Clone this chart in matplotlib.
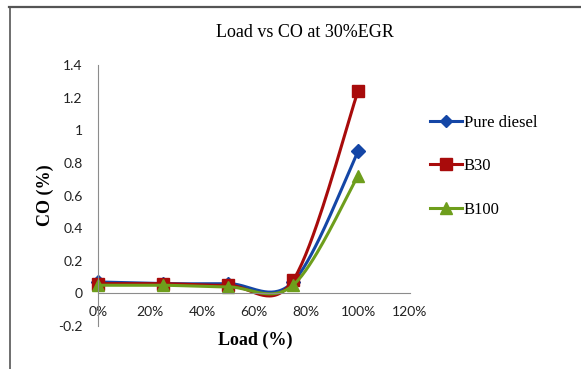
import numpy as np
import matplotlib.pyplot as plt
from matplotlib.lines import Line2D
from matplotlib.ticker import FuncFormatter

load = [0, 25, 50, 75, 100]
pure_diesel = [0.07, 0.06, 0.06, 0.07, 0.87]
b30 = [0.06, 0.06, 0.05, 0.08, 1.24]
b100 = [0.05, 0.05, 0.04, 0.05, 0.72]

series = [
    ('Pure diesel', pure_diesel, '#1446A6', 'D', 7),
    ('B30', b30, '#A80B0B', 's', 9),
    ('B100', b100, '#6E9E1C', '^', 9),
]


def smooth(x, y, n=40):
    # bezier smoothing through every point, like spreadsheet smoothed lines
    p = np.column_stack([x, y]).astype(float)
    out = [p[0]]
    for i in range(len(p) - 1):
        p0 = p[i - 1] if i > 0 else p[i]
        p3 = p[i + 2] if i + 2 < len(p) else p[i + 1]
        c1 = p[i] + (p[i + 1] - p0) / 6
        c2 = p[i + 1] - (p3 - p[i]) / 6
        t = np.linspace(0, 1, n)[1:, None]
        seg = ((1 - t) ** 3 * p[i] + 3 * (1 - t) ** 2 * t * c1
               + 3 * (1 - t) * t ** 2 * c2 + t ** 3 * p[i + 1])
        out.extend(seg)
    out = np.array(out)
    return out[:, 0], out[:, 1]


fig = plt.figure(figsize=(5.81, 3.69), dpi=100)
ax = fig.add_axes([0.1687, 0.1165, 0.537, 0.7073])

handles = []
for name, vals, col, mk, ms in series:
    sx, sy = smooth(load, vals)
    ax.plot(sx, sy, color=col, lw=2.2, solid_capstyle='round', clip_on=False)
    ax.plot(load, vals, ls='none', marker=mk, ms=ms, color=col, clip_on=False)
    handles.append(Line2D([], [], color=col, lw=2.2, marker=mk, ms=ms - 1))

ax.set_xlim(0, 120)
ax.set_ylim(-0.2, 1.4)
ax.set_xticks(np.arange(0, 121, 20))
ax.set_yticks(np.arange(-0.2, 1.41, 0.2))
ax.xaxis.set_major_formatter(FuncFormatter(lambda v, _: f'{v:.0f}%'))
ax.yaxis.set_major_formatter(FuncFormatter(lambda v, _: f'{v:.1f}'.rstrip('0').rstrip('.') if abs(v) > 1e-9 else '0'))

for s in ['top', 'right']:
    ax.spines[s].set_visible(False)
ax.spines['bottom'].set_position(('data', 0))
ax.spines['bottom'].set_color('#8c8c8c')
ax.spines['left'].set_color('#8c8c8c')
ax.tick_params(axis='both', length=0, labelsize=10, colors='#222222')
ax.tick_params(axis='x', pad=9)
ax.tick_params(axis='y', pad=11)
for lab in ax.get_xticklabels() + ax.get_yticklabels():
    lab.set_family('Lato')

ax.set_ylabel('CO (%)', family='Liberation Serif', fontweight='bold', fontsize=13, labelpad=3)
fig.text(0.44, 0.078, 'Load (%)', family='Liberation Serif', fontweight='bold',
         fontsize=13, ha='center', va='center')
fig.text(0.525, 0.913, 'Load vs CO at 30%EGR', family='Liberation Serif',
         fontsize=13, ha='center', va='center')

fig.legend(handles, [s[0] for s in series], loc='upper left',
           bbox_to_anchor=(0.715, 0.73), frameon=False,
           prop={'family': 'Liberation Serif', 'size': 12},
           handlelength=1.9, handletextpad=0.1, labelspacing=1.65)

# outer frame of the chart area
fig.add_artist(Line2D([0.016, 1.0], [0.981, 0.981], color='#555555', lw=1.6))
fig.add_artist(Line2D([0.017, 0.017], [0.0, 0.981], color='#555555', lw=1.2))

fig.savefig('out.png', dpi=100)
